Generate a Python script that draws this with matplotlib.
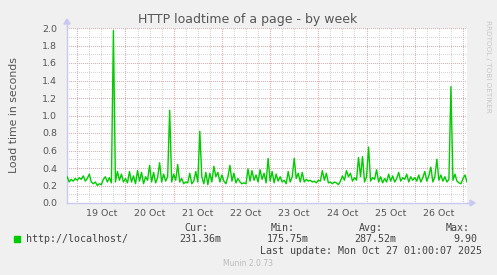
"""
Munin style weekly graph: HTTP loadtime of a page.
"""
import matplotlib
matplotlib.use("Agg")
import matplotlib.pyplot as plt
import numpy as np

W, H = 497, 275

# hourly samples, starting Oct 18 19:00 (hour 0 = Oct 19 00:00)
start_hour = -5
loadtime = [
    0.30, 0.24, 0.27, 0.25, 0.28, 0.26, 0.29, 0.27, 0.31, 0.25,
    0.28, 0.33, 0.24, 0.22, 0.24, 0.20, 0.22, 0.21, 0.27, 0.30,
    0.24, 0.29, 0.23, 1.97, 0.24, 0.36, 0.26, 0.33, 0.24, 0.28,
    0.23, 0.36, 0.24, 0.31, 0.22, 0.37, 0.25, 0.35, 0.22, 0.30,
    0.26, 0.43, 0.24, 0.35, 0.23, 0.29, 0.46, 0.24, 0.33, 0.25,
    0.30, 1.06, 0.24, 0.33, 0.26, 0.44, 0.24, 0.28, 0.22, 0.24,
    0.23, 0.34, 0.22, 0.25, 0.36, 0.24, 0.82, 0.30, 0.22, 0.35,
    0.21, 0.34, 0.24, 0.42, 0.30, 0.35, 0.24, 0.32, 0.25, 0.22,
    0.30, 0.43, 0.25, 0.34, 0.23, 0.28, 0.24, 0.22, 0.23, 0.22,
    0.39, 0.25, 0.37, 0.26, 0.32, 0.24, 0.38, 0.27, 0.34, 0.23,
    0.51, 0.25, 0.36, 0.23, 0.33, 0.25, 0.30, 0.24, 0.26, 0.22,
    0.36, 0.24, 0.30, 0.51, 0.28, 0.34, 0.24, 0.35, 0.24, 0.27,
    0.25, 0.26, 0.24, 0.25, 0.23, 0.26, 0.25, 0.37, 0.26, 0.34,
    0.23, 0.24, 0.22, 0.24, 0.23, 0.21, 0.25, 0.31, 0.26, 0.37,
    0.30, 0.34, 0.25, 0.29, 0.26, 0.52, 0.30, 0.53, 0.24, 0.30,
    0.64, 0.25, 0.29, 0.27, 0.38, 0.24, 0.30, 0.23, 0.28, 0.24,
    0.33, 0.25, 0.31, 0.24, 0.28, 0.35, 0.25, 0.29, 0.27, 0.33,
    0.24, 0.30, 0.26, 0.29, 0.25, 0.32, 0.24, 0.29, 0.36, 0.25,
    0.31, 0.41, 0.24, 0.30, 0.50, 0.26, 0.32, 0.25, 0.30, 0.24,
    0.27, 1.33, 0.26, 0.33, 0.25, 0.23, 0.22, 0.28, 0.32, 0.24,
]
day_labels = ["19 Oct", "20 Oct", "21 Oct", "22 Oct",
              "23 Oct", "24 Oct", "25 Oct", "26 Oct"]
y_ticks = [0.0, 0.2, 0.4, 0.6, 0.8, 1.0, 1.2, 1.4, 1.6, 1.8, 2.0]
series_name = "http://localhost/"
stats_names = ["Cur:", "Min:", "Avg:", "Max:"]
stats_values = ["231.36m", "175.75m", "287.52m", "9.90"]
last_update = "Last update: Mon Oct 27 01:00:07 2025"

BG = "#F0F0F0"
TXT = "#555555"
AXIS = "#C8C8F0"
LINE = "#00CC00"


def fx(px):
    return px / W


def fy(py):
    return 1 - py / H


fig = plt.figure(figsize=(W / 100, H / 100), dpi=100)
fig.patch.set_facecolor(BG)
ax = fig.add_axes([fx(67), fy(203), (467 - 67) / W, (203 - 28) / H])
ax.set_facecolor("white")

hours = start_hour + np.arange(len(loadtime))
ax.plot(hours, loadtime, color=LINE, lw=1.0, zorder=3)

ax.set_xlim(-5.1, 194)
ax.set_ylim(0, 2.0)

# grid: minor gray, major red (dotted like rrdtool)
dot = (0, (1, 2))
grid_kw = dict(lw=0.72, ls=dot, antialiased=False)
for h in np.arange(-6, 195, 6):
    if h % 24 != 0 and -5.1 < h < 194:
        ax.axvline(h, color="#D4D4D4", zorder=1, **grid_kw)
for h in np.arange(0, 195, 24):
    ax.axvline(h, color="#F0A8A8", zorder=2, **grid_kw)
for v in np.arange(0.1, 2.0, 0.2):
    ax.axhline(v, color="#D4D4D4", zorder=1, **grid_kw)
for v in y_ticks[1:]:
    ax.axhline(v, color="#F0A8A8", zorder=2, **grid_kw)

ax.set_yticks(y_ticks)
ax.set_yticklabels([f"{v:.1f}" for v in y_ticks])
ax.set_xticks([12 + 24 * i for i in range(len(day_labels))])
ax.set_xticklabels(day_labels)
ax.tick_params(length=0, labelsize=6.8, colors=TXT)
ax.tick_params(axis="y", pad=7)
ax.tick_params(axis="x", pad=4)

for s in ["top", "right"]:
    ax.spines[s].set_visible(False)
for s in ["left", "bottom"]:
    ax.spines[s].set_color(AXIS)
    ax.spines[s].set_linewidth(1.0)

# axis arrows
fig.add_artist(plt.Line2D([fx(67), fx(67)], [fy(28), fy(23)], color=AXIS, lw=1.0))
fig.add_artist(plt.Line2D([fx(467), fx(471)], [fy(203), fy(203)], color=AXIS, lw=1.0))
fig.add_artist(plt.Polygon([[fx(64), fy(24)], [fx(70), fy(24)], [fx(67), fy(19)]],
                           closed=True, color=AXIS, transform=fig.transFigure))
fig.add_artist(plt.Polygon([[fx(470), fy(200)], [fx(470), fy(206)], [fx(475), fy(203)]],
                           closed=True, color=AXIS, transform=fig.transFigure))

fig.text(fx(248), fy(19), "HTTP loadtime of a page - by week",
         ha="center", va="center", fontsize=9, color=TXT)
fig.text(fx(14), fy(115), "Load time in seconds", rotation=90,
         ha="center", va="center", fontsize=7.8, color=TXT)
fig.text(fx(488), fy(20), "RRDTOOL / TOBI OETIKER", rotation=270,
         ha="center", va="top", fontsize=5.2, color="#C8C8C8")

# legend
mono = "DejaVu Sans Mono"
fig.add_artist(plt.Rectangle((fx(14), fy(242)), 6 / W, 6 / H,
                             color=LINE, transform=fig.transFigure))
fig.text(fx(26), fy(239.5), series_name, family=mono, fontsize=7.2,
         color="#444444", va="center")
col_right = [208, 295, 383, 470]
val_right = [221, 309, 396, 477]
for name, val, xr, vr in zip(stats_names, stats_values, col_right, val_right):
    fig.text(fx(xr), fy(228), name, family=mono, fontsize=7.2,
             color="#444444", va="center", ha="right")
    fig.text(fx(vr), fy(239.5), val, family=mono, fontsize=7.2,
             color="#444444", va="center", ha="right")
fig.text(fx(482), fy(251), last_update, family=mono, fontsize=7.2,
         color="#444444", va="center", ha="right")
fig.text(fx(248), fy(264), "Munin 2.0.73", fontsize=5.5,
         color="#BBBBBB", va="center", ha="center")

fig.savefig("out.png", dpi=100, facecolor=fig.get_facecolor())
